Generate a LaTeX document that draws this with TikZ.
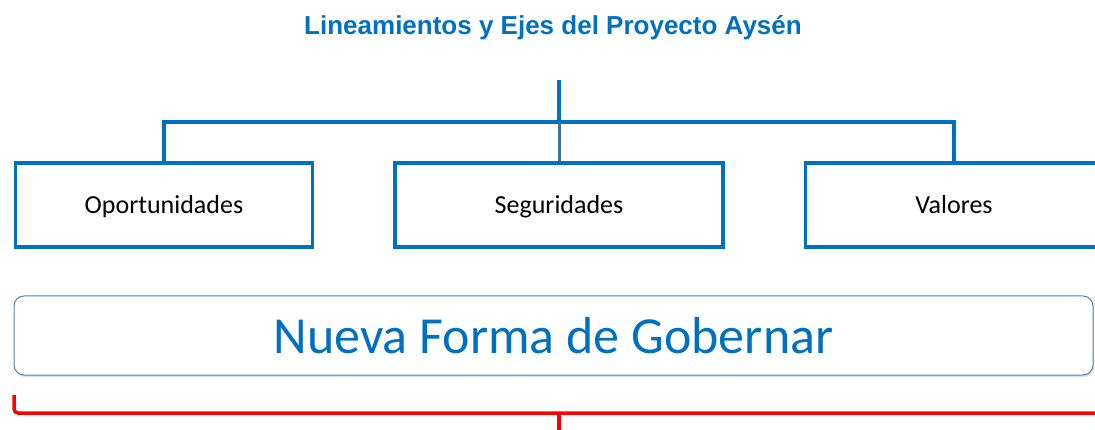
\documentclass[tikz,border=0pt]{standalone}
\usepackage{fontspec}
\setmainfont{Carlito}
\newfontfamily\titlefont{Liberation Sans}
\usetikzlibrary{positioning, shadows}
\definecolor{axisblue}{RGB}{0,112,192}
\definecolor{stemgray}{RGB}{68,114,160}
\definecolor{frameblue}{RGB}{79,129,189}

\begin{document}
\begin{tikzpicture}[x=1pt, y=-1pt, node distance=395pt, on grid,
    axis/.style={draw=axisblue, line width=3.5pt, minimum height=84pt,
                 text height=24pt, text depth=6pt,
                 font=\fontsize{26}{28}\selectfont},
    branch/.style={draw=axisblue, line width=3.5pt},
    brace/.style={draw=red, line width=3.5pt, rounded corners=4pt}]
   \useasboundingbox (0,0) rectangle (1095,430);

   \node[font=\titlefont\bfseries\fontsize{26}{28}\selectfont, text=axisblue]
        (title) at (553,28) {Lineamientos y Ejes del Proyecto Aysén};

   \node[axis, minimum width=328pt] (seg) at (559,205) {Seguridades};
   \node[axis, minimum width=297pt] (opo) [left=of seg] {Oportunidades};
   \node[axis, minimum width=297pt] (val) [right=of seg] {Valores};

   \coordinate (top) at (559,80);
   \coordinate (fork) at (559,122);
   \draw[branch] (top) -- (fork);
   \draw[branch] (opo.north) |- (fork) -| (val.north);
   \draw[branch, draw=stemgray, line width=3pt] (fork) -- (seg.north);

   \node[draw=frameblue, line width=1pt, rounded corners=10pt, fill=white,
         minimum width=1079pt, minimum height=79pt,
         drop shadow={opacity=0.25, shadow xshift=1pt, shadow yshift=-2pt},
         text=axisblue, font=\fontsize{52}{56}\selectfont]
        (gob) at (553.5,335.5) {Nueva Forma de Gobernar};

   \coordinate (brL) at (14,395);
   \coordinate (brR) at (1100,413);
   \coordinate (brM) at (559,413);
   \coordinate (brT) at (559,434);
   \draw[brace] (brL) |- (brR);
   \draw[brace] (brM) -- (brT);
\end{tikzpicture}
\end{document}
